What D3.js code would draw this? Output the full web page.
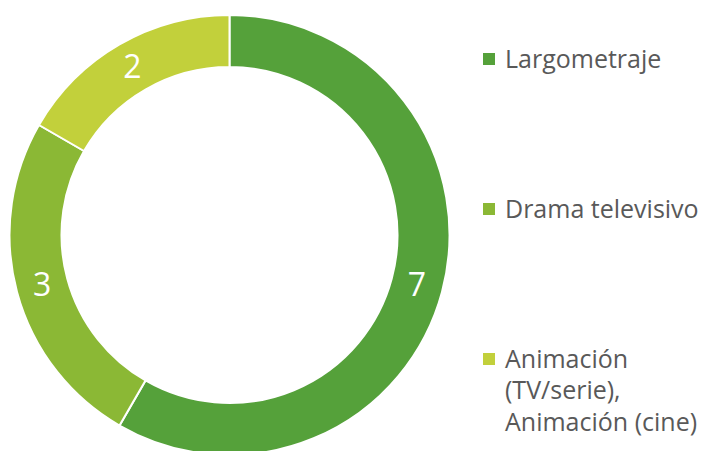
<!DOCTYPE html>
<html>
<head>
<meta charset="utf-8">
<script src="https://cdn.jsdelivr.net/npm/d3@7"></script>
<style>
    html, body { margin: 0; padding: 0; background: #fff; }
    svg { display: block; font-family: "Open Sans", sans-serif; }
</style>
</head>
<body>
<div id="chart"></div>
<script>
"use strict";

const categories = ["Largometraje", "Drama televisivo", "Animación (TV/serie), Animación (cine)"];
const legendLines = [["Largometraje"], ["Drama televisivo"], ["Animación", "(TV/serie),", "Animación (cine)"]];
const values = [7, 3, 2];
const colors = ["#55a13a", "#8bb835", "#c2d03b"];

function main() {
    const width = 707;
    const height = 451;
    const cx = 229.5;
    const cy = 235;
    const outerR = 220;
    const innerR = 168;

    const svg = d3.select("#chart").append("svg")
        .attr("width", width)
        .attr("height", height);

    const data = categories.map(function (c, i) {
        return {name: c, value: values[i], color: colors[i], lines: legendLines[i]};
    });

    const pie = d3.pie()
        .sort(null)
        .value(function (d) {
            return d.value;
        });
    const arc = d3.arc()
        .innerRadius(innerR)
        .outerRadius(outerR);

    const g = svg.append("g")
        .attr("transform", "translate(" + cx + "," + cy + ")");

    const slices = g.selectAll("g.slice")
        .data(pie(data))
        .enter().append("g")
        .attr("class", "slice");

    slices.append("path")
        .attr("d", arc)
        .attr("fill", function (d) {
            return d.data.color;
        })
        .attr("stroke", "#fff")
        .attr("stroke-width", 2);

    slices.append("text")
        .attr("transform", function (d) {
            return "translate(" + arc.centroid(d) + ")";
        })
        .attr("text-anchor", "middle")
        .attr("dy", "0.35em")
        .attr("fill", "#fff")
        .attr("font-size", 32)
        .text(function (d) {
            return d.data.value;
        });

    // legend
    const legendY = d3.scalePoint()
        .domain(categories)
        .range([59, 359]);
    const legend = svg.selectAll("g.legend")
        .data(data)
        .enter().append("g")
        .attr("class", "legend")
        .attr("transform", function (d) {
            return "translate(483," + legendY(d.name) + ")";
        });
    legend.append("rect")
        .attr("x", 0)
        .attr("y", -6)
        .attr("width", 12)
        .attr("height", 12)
        .attr("fill", function (d) {
            return d.color;
        });
    const txt = legend.append("text")
        .attr("x", 22)
        .attr("y", 0)
        .attr("fill", "#595959")
        .attr("font-size", 25);
    txt.selectAll("tspan")
        .data(function (d) {
            return d.lines;
        })
        .enter().append("tspan")
        .attr("x", 22)
        .attr("dy", function (d, i) {
            return i === 0 ? "0.35em" : 31.5;
        })
        .text(function (d) {
            return d;
        });
}

main();
</script>
</body>
</html>
